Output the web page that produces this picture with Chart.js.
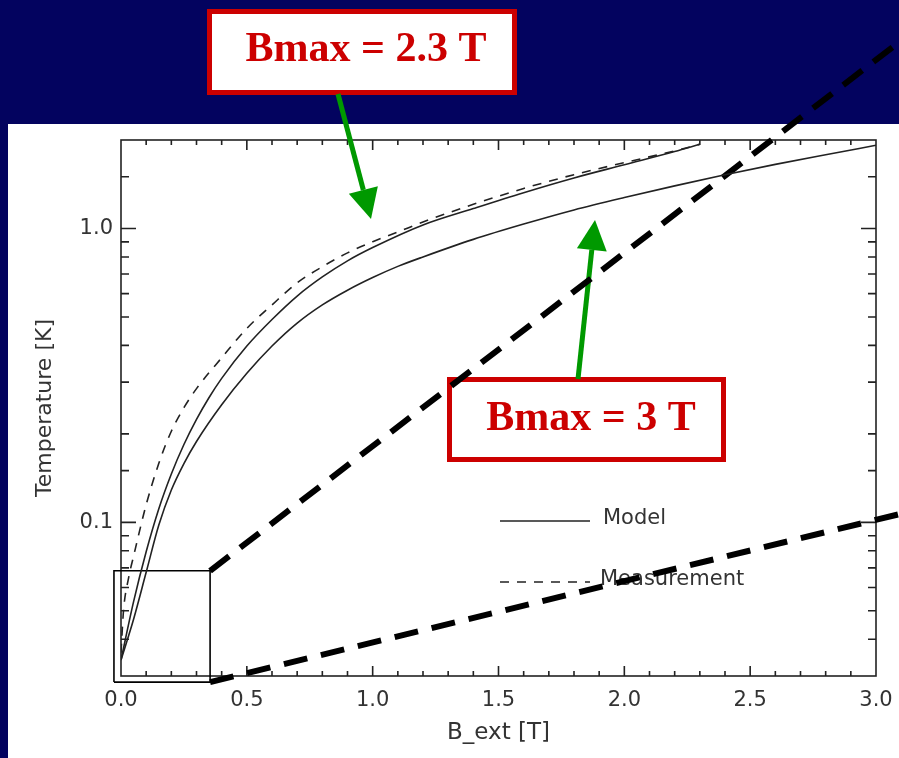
<!DOCTYPE html>
<html>
<head>
<meta charset="utf-8">
<script src="https://cdn.jsdelivr.net/npm/chart.js@4"></script>
<style>
  html, body { margin: 0; padding: 0; background: #03035f; }
  canvas { display: block; }
</style>
</head>
<body>
<canvas id="tempChart" width="899" height="758"></canvas>
<script>
// model, Bmax = 2.3 T
const bModel23 = [0, 0.05, 0.1, 0.15, 0.2, 0.25, 0.3, 0.35, 0.4, 0.5, 0.6, 0.7, 0.8, 0.9, 1.0, 1.2, 1.4, 1.6, 1.8, 2.0, 2.2, 2.3];
const tModel23 = [0.034, 0.0537, 0.0794, 0.111, 0.146, 0.184, 0.224, 0.266, 0.309, 0.398, 0.490, 0.589, 0.684, 0.776, 0.861, 1.028, 1.169, 1.324, 1.486, 1.648, 1.828, 1.934];
// model, Bmax = 3 T
const bModel3 = [0, 0.05, 0.1, 0.15, 0.2, 0.25, 0.3, 0.4, 0.5, 0.6, 0.7, 0.8, 0.9, 1.0, 1.1, 1.2, 1.4, 1.6, 1.8, 2.0, 2.2, 2.4, 2.6, 2.8, 3.0];
const tModel3 = [0.034, 0.0468, 0.0676, 0.0977, 0.1288, 0.1585, 0.1884, 0.2512, 0.3214, 0.398, 0.4764, 0.5495, 0.6166, 0.6808, 0.743, 0.80, 0.918, 1.035, 1.156, 1.274, 1.396, 1.524, 1.652, 1.782, 1.919];
// measurement
const bMeas = [0, 0.01, 0.03, 0.05, 0.1, 0.15, 0.2, 0.25, 0.3, 0.4, 0.5, 0.6, 0.7, 0.8, 0.9, 1.0, 1.1, 1.2, 1.4, 1.6, 1.8, 2.0, 2.2, 2.3];
const tMeas = [0.036, 0.0501, 0.0646, 0.0767, 0.1148, 0.1585, 0.2042, 0.2455, 0.2851, 0.3631, 0.4571, 0.5495, 0.6531, 0.7413, 0.826, 0.9016, 0.9727, 1.052, 1.208, 1.368, 1.524, 1.675, 1.837, 1.934];

const xTickLabels = ['0.0', '0.5', '1.0', '1.5', '2.0', '2.5', '3.0'];
const yTickLabels = ['0.1', '1.0'];

// zoom-in box around the origin and the two lines leading out of it
const zoomBoxX = [-0.028, 0.354, 0.354, -0.028, -0.028];
const zoomBoxY = [0.0286, 0.0286, 0.0684, 0.0684, 0.0286];
const zoomUpperX = [0.354, 3.1];
const zoomUpperY = [0.0684, 4.36];
const zoomLowerX = [0.354, 3.1];
const zoomLowerY = [0.0286, 0.107];

const toPoints = (xs, ys) => xs.map((x, i) => ({ x: x, y: ys[i] }));

const callouts = [
  { x: 207, y: 9, w: 310, h: 86, text: 'Bmax = 2.3 T', tx: 366, ty: 50 },
  { x: 447, y: 377, w: 279, h: 85, text: 'Bmax = 3 T', tx: 591, ty: 419 }
];
const arrows = [
  { from: [338, 94], to: [371, 219] },
  { from: [578, 379], to: [595, 220] }
];

const NAVY = '#03035f';
const RED = '#cc0000';
const GREEN = '#009900';
const INK = '#222';
const LABEL_FONT = 'DejaVu Sans';

function drawArrow(ctx, a) {
  const [x0, y0] = a.from;
  const [x1, y1] = a.to;
  const ang = Math.atan2(y1 - y0, x1 - x0);
  const headLen = 30, headHalf = 15;
  const bx = x1 - headLen * Math.cos(ang);
  const by = y1 - headLen * Math.sin(ang);
  ctx.strokeStyle = GREEN;
  ctx.lineWidth = 5;
  ctx.setLineDash([]);
  ctx.beginPath();
  ctx.moveTo(x0, y0);
  ctx.lineTo(bx, by);
  ctx.stroke();
  ctx.fillStyle = GREEN;
  ctx.beginPath();
  ctx.moveTo(x1, y1);
  ctx.lineTo(bx + headHalf * Math.sin(ang), by - headHalf * Math.cos(ang));
  ctx.lineTo(bx - headHalf * Math.sin(ang), by + headHalf * Math.cos(ang));
  ctx.closePath();
  ctx.fill();
}

const slidePlugin = {
  id: 'slide',
  beforeDraw(chart) {
    const ctx = chart.ctx;
    ctx.save();
    ctx.fillStyle = NAVY;
    ctx.fillRect(0, 0, chart.width, chart.height);
    ctx.fillStyle = '#fff';
    ctx.fillRect(8, 124, chart.width - 8, chart.height - 124);
    ctx.restore();
  },
  beforeDatasetsDraw(chart) {
    const ctx = chart.ctx;
    const { left, right, top, bottom } = chart.chartArea;
    const xs = chart.scales.x, ys = chart.scales.y;
    ctx.save();
    ctx.strokeStyle = INK;
    ctx.lineWidth = 1.6;
    ctx.strokeRect(left, top, right - left, bottom - top);

    // inward ticks on all four sides
    ctx.beginPath();
    xs.ticks.forEach(t => {
      if (t.value <= xs.min + 1e-9 || t.value >= xs.max - 1e-9) return;
      const px = xs.getPixelForValue(t.value);
      const len = t.label ? 10 : 5;
      ctx.moveTo(px, bottom); ctx.lineTo(px, bottom - len);
      ctx.moveTo(px, top); ctx.lineTo(px, top + len);
    });
    ys.ticks.forEach(t => {
      if (t.value <= ys.min * 1.0001 || t.value >= ys.max * 0.9999) return;
      const py = ys.getPixelForValue(t.value);
      const len = t.label ? 15 : 8;
      ctx.moveTo(left, py); ctx.lineTo(left + len, py);
      ctx.moveTo(right, py); ctx.lineTo(right - len, py);
    });
    ctx.stroke();

    // legend
    const ds = chart.data.datasets;
    const rows = [
      { d: ds[0], y: 521, tx: 603 },
      { d: ds[2], y: 582, tx: 600 }
    ];
    ctx.font = '21px "' + LABEL_FONT + '"';
    ctx.textBaseline = 'middle';
    rows.forEach(r => {
      ctx.setLineDash(r.d.borderDash || []);
      ctx.lineWidth = 1.6;
      ctx.beginPath();
      ctx.moveTo(500, r.y); ctx.lineTo(590, r.y);
      ctx.stroke();
      ctx.setLineDash([]);
      ctx.fillStyle = '#333';
      ctx.fillText(r.d.label, r.tx, r.y - 2);
    });

    // callout boxes
    callouts.forEach(c => {
      ctx.fillStyle = '#fff';
      ctx.fillRect(c.x, c.y, c.w, c.h);
      ctx.strokeStyle = RED;
      ctx.lineWidth = 5;
      ctx.strokeRect(c.x + 2.5, c.y + 2.5, c.w - 5, c.h - 5);
      ctx.fillStyle = RED;
      ctx.font = 'bold 42px "Liberation Serif"';
      ctx.textAlign = 'center';
      ctx.textBaseline = 'middle';
      ctx.fillText(c.text, c.tx, c.ty);
    });
    arrows.forEach(a => drawArrow(ctx, a));
    ctx.restore();
  }
};

const lineBase = { pointRadius: 0, borderColor: INK, borderWidth: 1.6, cubicInterpolationMode: 'monotone', fill: false };
const zoomBase = { pointRadius: 0, borderColor: '#000', fill: false, clip: false, tension: 0 };

new Chart(document.getElementById('tempChart'), {
  type: 'line',
  data: {
    datasets: [
      Object.assign({ label: 'Model', data: toPoints(bModel23, tModel23) }, lineBase),
      Object.assign({ label: 'Model', data: toPoints(bModel3, tModel3) }, lineBase),
      Object.assign({ label: 'Measurement', data: toPoints(bMeas, tMeas), borderDash: [9, 8] }, lineBase),
      Object.assign({ label: 'zoom box', data: toPoints(zoomBoxX, zoomBoxY), borderWidth: 1.6 }, zoomBase),
      Object.assign({ label: 'zoom upper', data: toPoints(zoomUpperX, zoomUpperY), borderWidth: 6, borderDash: [24, 14] }, zoomBase),
      Object.assign({ label: 'zoom lower', data: toPoints(zoomLowerX, zoomLowerY), borderWidth: 6, borderDash: [24, 14] }, zoomBase)
    ]
  },
  options: {
    responsive: false,
    animation: false,
    layout: { padding: { top: 140, right: 23, left: 0, bottom: 0 } },
    plugins: {
      legend: { display: false },
      tooltip: { enabled: false }
    },
    scales: {
      x: {
        type: 'linear',
        min: 0,
        max: 3,
        afterFit: s => { s.height = 82; s.paddingLeft = 0; s.paddingRight = 0; },
        grid: { display: false, drawTicks: false },
        border: { display: false },
        ticks: {
          stepSize: 0.1,
          autoSkip: false,
          maxRotation: 0,
          padding: 12,
          color: '#333',
          font: { family: LABEL_FONT, size: 21 },
          callback: v => {
            const lab = v.toFixed(1);
            return Math.abs(v * 2 - Math.round(v * 2)) < 1e-6 && xTickLabels.includes(lab) ? lab : '';
          }
        },
        title: {
          display: true,
          text: 'B_ext [T]',
          color: '#333',
          font: { family: LABEL_FONT, size: 23 },
          padding: { top: 0, bottom: 11 }
        }
      },
      y: {
        type: 'logarithmic',
        min: 0.03,
        max: 2,
        afterFit: s => { s.width = 121; s.paddingTop = 0; s.paddingBottom = 0; },
        grid: { display: false, drawTicks: false },
        border: { display: false },
        ticks: {
          autoSkip: false,
          padding: 8,
          color: '#333',
          font: { family: LABEL_FONT, size: 21 },
          callback: v => {
            const lab = v.toFixed(1);
            return (Math.abs(v - 0.1) < 1e-9 || Math.abs(v - 1) < 1e-9) && yTickLabels.includes(lab) ? lab : '';
          }
        },
        title: {
          display: true,
          text: 'Temperature [K]',
          color: '#333',
          font: { family: LABEL_FONT, size: 22 },
          padding: { top: 32, bottom: 0 }
        }
      }
    }
  },
  plugins: [slidePlugin]
});
</script>
</body>
</html>
